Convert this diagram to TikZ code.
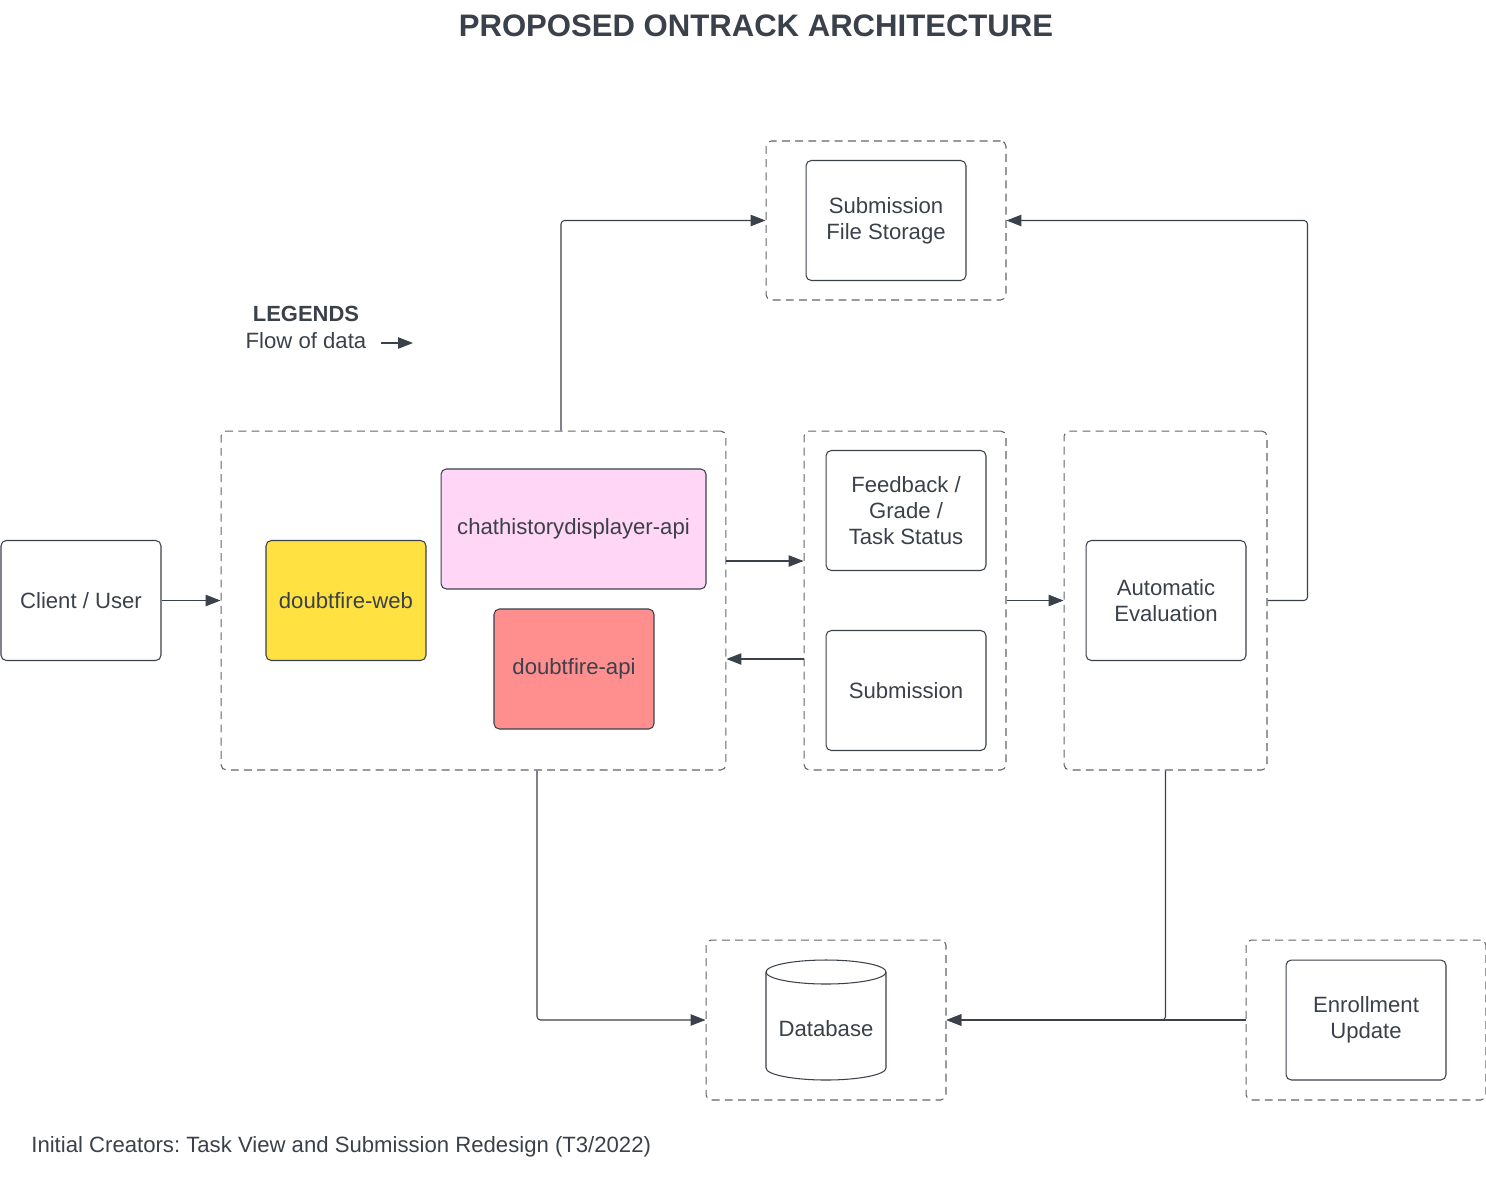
\documentclass[tikz,border=0pt]{standalone}
\usepackage{fontspec}
\setmainfont{Liberation Sans}
\usetikzlibrary{arrows.meta}
\definecolor{ink}{HTML}{3A414A}
\definecolor{dashgray}{HTML}{5F656D}
\definecolor{webyellow}{HTML}{FFE142}
\definecolor{chatpink}{HTML}{FFD6F5}
\definecolor{apired}{HTML}{FF8F8F}
\frenchspacing

\begin{document}
\begin{tikzpicture}[x=0.02cm,y=-0.02cm,
  every node/.style={text=ink,font=\fontsize{12.6}{15}\selectfont},
  box/.style={draw=ink,line width=0.6pt,rounded corners=3pt,align=center,
    minimum width=3.2cm,minimum height=2.4cm,inner sep=0pt},
  group/.style={draw=dashgray,line width=0.6pt,rounded corners=3pt,
    dash pattern=on 4.5pt off 3pt,inner sep=0pt},
  flow/.style={draw=ink,line width=0.6pt,rounded corners=2pt,
    -{Triangle[length=8.5pt,width=6.5pt]}}]
\useasboundingbox (0,0) rectangle (1486,1180);

\node[font=\fontsize{17.7}{20}\selectfont\bfseries] (title) at (756,26) {PROPOSED ONTRACK ARCHITECTURE};

% legend
\node[font=\fontsize{12.5}{15}\selectfont\bfseries] (leg) at (306,314) {LEGENDS};
\node (legflow) at (306,341) {Flow of data};
\coordinate (la) at (381,343);
\coordinate (lb) at (413,343);
\draw[flow] (la) -- (lb);

% containers
\node[group,minimum width=10.1cm,minimum height=6.78cm] (main) at (473.5,600.5) {};
\node[group,minimum width=4.8cm,minimum height=3.18cm] (stor) at (886,220.5) {};
\node[group,minimum width=4.04cm,minimum height=6.78cm] (feed) at (905,600.5) {};
\node[group,minimum width=4.06cm,minimum height=6.78cm] (auto) at (1165.5,600.5) {};
\node[group,minimum width=4.8cm,minimum height=3.2cm] (dbgroup) at (826,1020) {};
\node[group,minimum width=4.8cm,minimum height=3.2cm] (enrl) at (1366,1020) {};

% boxes
\node[box] (client) at (81,600.5) {Client / User};
\node[box] (storage) at (886,220.5) {Submission\\File Storage};
\node[box,fill=webyellow] (web) at (346,600.5) {doubtfire-web};
\node[box,fill=chatpink,minimum width=5.3cm] (chat) at (573.5,529) {chathistorydisplayer-api};
\node[box,fill=apired] (api) at (574,669) {doubtfire-api};
\node[box] (grade) at (906,510.5) {Feedback /\\Grade /\\Task Status};
\node[box] (subm) at (906,690.5) {Submission};
\node[box] (autoeval) at (1166,600.5) {Automatic\\Evaluation};
\node[box] (enroll) at (1366,1020) {Enrollment\\Update};

% database cylinder
\draw[ink,line width=0.6pt] (766,972) -- (766,1068)
  arc[start angle=180,end angle=360,x radius=1.2cm,y radius=0.24cm] -- (886,972);
\draw[ink,line width=0.6pt] (826,972) ellipse[x radius=1.2cm,y radius=0.24cm];
\node (db) at (826,1029) {Database};

\node[anchor=west,inner sep=0pt] (credit) at (31,1147)
  {Initial Creators: Task View and Submission Redesign (T3/2022)};

% data flow
\draw[flow] (client.east) -- (main.west);
\draw[flow] ([xshift=1.75cm]main.north) |- (stor.west);
\draw[flow] ([yshift=0.79cm]main.east) -- ([yshift=0.79cm]feed.west);
\draw[flow] ([yshift=-1.17cm]feed.west) -- ([yshift=-1.17cm]main.east);
\draw[flow] (feed.east) -- (auto.west);
\draw[flow] (auto.east) -- ++(0.8cm,0) |- (stor.east);
\draw[flow] ([xshift=1.27cm]main.south) |- (dbgroup.west);
\draw[flow] (auto.south) |- (dbgroup.east);
\draw[flow] (enrl.west) -- (dbgroup.east);
\end{tikzpicture}
\end{document}
